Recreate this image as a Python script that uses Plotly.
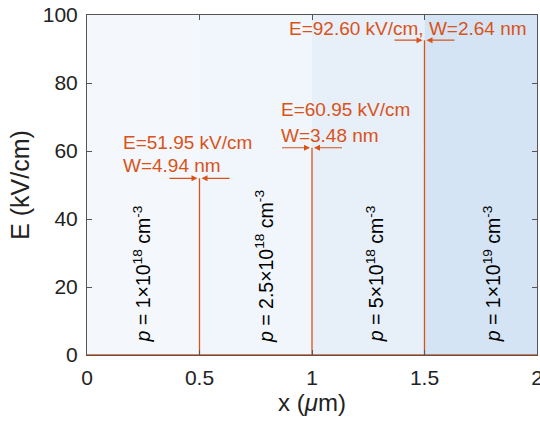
import plotly.graph_objects as go

# ---- data ----
boundaries = [0.5, 1.0, 1.5]            # x positions of the spikes (um)
peak_E = [51.95, 60.95, 92.60]          # kV/cm
widths_nm = [4.94, 3.48, 2.64]          # nm
region_edges = [0, 0.5, 1.0, 1.5, 2.0]
region_labels = ["1×10<sup>18</sup>", "2.5×10<sup>18</sup>", "5×10<sup>18</sup>", "1×10<sup>19</sup>"]
region_colors = ["#f4f8fc", "#f1f6fc", "#e7eff9", "#d4e4f4"]
x_ticks = [0, 0.5, 1, 1.5, 2]
x_tick_text = ["0", "0.5", "1", "1.5", "2"]
y_ticks = [0, 20, 40, 60, 80, 100]

ORANGE = "#D95319"
FONT = "Liberation Sans, Arial, sans-serif"

# E-field profile: zero everywhere except narrow spikes at boundaries
xs, ys = [0.0], [0.0]
for b, e in zip(boundaries, peak_E):
    xs += [b, b, b]
    ys += [0.0, e, 0.0]
xs.append(2.0)
ys.append(0.0)

fig = go.Figure()
fig.add_trace(go.Scatter(x=xs, y=ys, mode="lines",
                         line=dict(color=ORANGE, width=1.3), showlegend=False,
                         hoverinfo="skip", cliponaxis=False))

shapes = []
for i in range(4):
    shapes.append(dict(type="rect", xref="x", yref="y",
                       x0=region_edges[i], x1=region_edges[i + 1], y0=0, y1=100,
                       fillcolor=region_colors[i], line=dict(width=0), layer="below"))

annotations = []
# rotated doping labels
label_x = [0.245, 0.79, 1.28, 1.80]
for lx, lab in zip(label_x, region_labels):
    annotations.append(dict(x=lx, y=3.0, xref="x", yref="y",
                            text="<i>p</i> = " + lab + " cm<sup>-3</sup>",
                            textangle=-90, showarrow=False, yanchor="bottom",
                            xanchor="center",
                            font=dict(family=FONT, size=19.5, color="#000000")))

# arrows on both sides of each spike
for b, e in zip(boundaries, peak_E):
    for side in (-1, 1):
        annotations.append(dict(x=b, y=e, ax=b + side * 0.14, ay=e,
                                xref="x", yref="y", axref="x", ayref="y",
                                text="", showarrow=True, arrowhead=2,
                                arrowsize=1, arrowwidth=1.2, arrowcolor=ORANGE,
                                standoff=2))

# value text
tfont = dict(family=FONT, size=19, color=ORANGE)
annotations += [
    dict(x=0.151, y=62.6, xref="x", yref="y", xanchor="left", yanchor="middle",
         text=f"E={peak_E[0]:.2f} kV/cm", showarrow=False, font=tfont),
    dict(x=0.151, y=55.6, xref="x", yref="y", xanchor="left", yanchor="middle",
         text=f"W={widths_nm[0]:.2f} nm", showarrow=False, font=tfont),
    dict(x=0.853, y=72.1, xref="x", yref="y", xanchor="left", yanchor="middle",
         text=f"E={peak_E[1]:.2f} kV/cm", showarrow=False, font=tfont),
    dict(x=0.853, y=64.7, xref="x", yref="y", xanchor="left", yanchor="middle",
         text=f"W={widths_nm[1]:.2f} nm", showarrow=False, font=tfont),
    dict(x=0.887, y=96.1, xref="x", yref="y", xanchor="left", yanchor="middle",
         text=f"E={peak_E[2]:.2f} kV/cm, W={widths_nm[2]:.2f} nm",
         showarrow=False, font=tfont),
]

axis_common = dict(showline=True, linecolor="#555555", linewidth=1,
                   mirror="allticks", ticks="inside", ticklen=5,
                   tickcolor="#555555", showgrid=False, zeroline=False,
                   automargin=False, ticklabelstandoff=4,
                   ticklabeloverflow="allow",
                   tickfont=dict(family=FONT, size=21, color="#222222"))

fig.update_layout(
    width=540, height=424,
    margin=dict(l=87, r=3, t=15, b=69),
    paper_bgcolor="white", plot_bgcolor="white",
    shapes=shapes, annotations=annotations,
    xaxis=dict(range=[0, 2], tickvals=x_ticks, ticktext=x_tick_text,
               title=dict(text="x (<i>μ</i>m)", standoff=4,
                          font=dict(family=FONT, size=24, color="#222222")),
               **axis_common),
    yaxis=dict(range=[0, 100], tickvals=y_ticks,
               title=dict(text="E (kV/cm)", standoff=6,
                          font=dict(family=FONT, size=25, color="#222222")),
               **axis_common),
)

fig.write_html("out.html", config={"displayModeBar": False},
               post_script="document.body.style.margin='0';")
